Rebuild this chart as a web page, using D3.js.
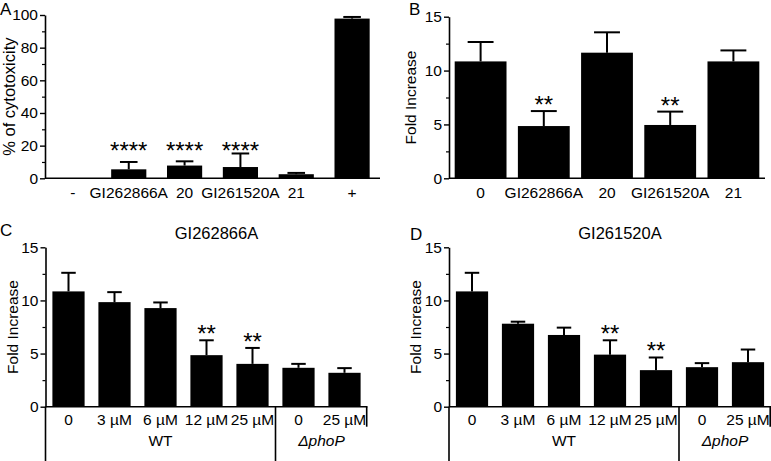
<!DOCTYPE html>
<html><head><meta charset="utf-8">
<script src="https://cdn.jsdelivr.net/npm/d3@7"></script>
<style>
body{margin:0;background:#fff}
svg{display:block}
text{font-family:"Liberation Sans",Arial,sans-serif;fill:#000}
</style>
</head><body>
<svg id="chart" width="771" height="461"></svg>
<script>
// ---------- data ----------
const catsA = ["-", "GI262866A", "20", "GI261520A", "21", "+"];
const valA  = [0, 5.5, 7.8, 6.9, 2.5, 97.8];
const errA  = [0, 10.0, 10.4, 15.2, 3.3, 98.8];
const sigA  = ["", "****", "****", "****", "", ""];
const ticksA = [0, 20, 40, 60, 80, 100];
const minorA = [10, 30, 50, 70, 90];

const catsB = ["0", "GI262866A", "20", "GI261520A", "21"];
const valB  = [10.85, 4.85, 11.66, 4.95, 10.85];
const errB  = [12.65, 6.24, 13.55, 6.19, 11.87];
const sigB  = ["", "**", "", "**", ""];

const ticksFold = [0, 5, 10, 15];
const minorFold = [2.5, 7.5, 12.5];

const catsCD = ["0", "3 µM", "6 µM", "12 µM", "25 µM", "0", "25 µM"];
const groupNames = ["WT", "ΔphoP"];
const groupSizes = [5, 2];

const valC = [10.85, 9.84, 9.28, 4.85, 4.03, 3.66, 3.19];
const errC = [12.6, 10.78, 9.81, 6.25, 5.53, 4.03, 3.63];
const sigC = ["", "", "", "**", "**", "", ""];

const valD = [10.85, 7.81, 6.75, 4.9, 3.44, 3.72, 4.19];
const errD = [12.6, 8.0, 7.44, 6.25, 4.63, 4.1, 5.38];
const sigD = ["", "", "", "**", "**", "", ""];

// ---------- drawing ----------
const svg = d3.select("#chart");
const FONT = "Liberation Sans, Arial, sans-serif";

function panel(o) {
  const g = svg.append("g");
  const x = d3.scaleBand().domain(o.cats.map((c, i) => i)).range([o.x0, o.x1])
    .paddingInner(o.pad).paddingOuter(o.pad / 2);
  const y = d3.scaleLinear().domain([0, o.ymax]).range([o.yb, o.yt]);

  // bars
  g.selectAll(".bar").data(o.vals).join("rect")
    .attr("x", (d, i) => x(i)).attr("width", x.bandwidth())
    .attr("y", d => y(d)).attr("height", d => y(0) - y(d))
    .attr("fill", "#000");

  // error bars (upper only)
  const cw = x.bandwidth() * o.capFrac;
  o.errs.forEach((e, i) => {
    if (e <= o.vals[i]) return;
    const cx = x(i) + x.bandwidth() / 2;
    g.append("line").attr("x1", cx).attr("x2", cx).attr("y1", y(o.vals[i])).attr("y2", y(e))
      .attr("stroke", "#000").attr("stroke-width", 2);
    g.append("line").attr("x1", cx - cw / 2).attr("x2", cx + cw / 2).attr("y1", y(e)).attr("y2", y(e))
      .attr("stroke", "#000").attr("stroke-width", 2);
  });

  // significance
  o.sig.forEach((s, i) => {
    if (!s) return;
    const cx = x(i) + x.bandwidth() / 2;
    const cy = o.sigFixed != null ? y(o.sigFixed) : y(o.errs[i]) - 11;
    g.append("text").attr("x", cx).attr("y", cy + 13).attr("text-anchor", "middle")
      .style("font-size", "24px").text(s);
  });

  // y axis
  const ya = g.append("g").attr("transform", `translate(${o.x0},0)`)
    .call(d3.axisLeft(y).tickValues(o.ticks).tickSize(5).tickPadding(2).tickSizeOuter(0));
  ya.select(".domain").attr("stroke-width", 1.6);
  ya.selectAll(".tick line").attr("stroke-width", 1.4);
  ya.selectAll("text").style("font-size", "15.5px").style("font-family", FONT);
  const ym = g.append("g").attr("transform", `translate(${o.x0},0)`)
    .call(d3.axisLeft(y).tickValues(o.minor).tickSize(3).tickFormat("").tickSizeOuter(0));
  ym.select(".domain").remove();
  ym.selectAll(".tick line").attr("stroke-width", 1.2);

  // x axis
  const xa = g.append("g").attr("transform", `translate(0,${o.yb})`)
    .call(d3.axisBottom(x).tickFormat(i => o.cats[i]).tickSize(0).tickPadding(o.xpad).tickSizeOuter(0));
  xa.select(".domain").attr("stroke-width", 1.6).attr("d", `M${o.x0},0H${o.x1}`);
  xa.selectAll("text").style("font-size", "15.5px").style("font-family", FONT);

  // y label
  g.append("text").attr("transform", `translate(${o.ylx},${(o.yt + o.yb) / 2}) rotate(-90)`)
    .attr("text-anchor", "middle").style("font-size", o.ylfont + "px").text(o.ylabel);

  // panel letter
  g.append("text").attr("x", o.lx).attr("y", o.ly).style("font-size", "17px").text(o.letter);

  // title
  if (o.title) {
    g.append("text").attr("x", (o.x0 + o.x1) / 2 + 10).attr("y", o.yt - 8).attr("text-anchor", "middle")
      .style("font-size", "16.5px").text(o.title);
  }

  // group brackets
  if (o.groups) {
    const lineAttrs = sel => sel.attr("stroke", "#000").attr("stroke-width", 1.6);
    g.append("line").attr("x1", o.x0).attr("x2", o.x0).attr("y1", o.yb).attr("y2", 470).call(lineAttrs);
    let start = 0;
    const step = x.step();
    o.groups.forEach((n, gi) => {
      const gx0 = o.x0 + start * step;
      const gx1 = o.x0 + (start + n) * step;
      g.append("text").attr("x", (gx0 + gx1) / 2).attr("y", o.yb + 39)
        .attr("text-anchor", "middle").style("font-size", "15.5px")
        .style("font-style", gi === 1 ? "italic" : "normal").text(o.groupNames[gi]);
      if (gi < o.groups.length - 1) {
        g.append("line").attr("x1", gx1).attr("x2", gx1).attr("y1", o.yb).attr("y2", 470).call(lineAttrs);
      } else {
        g.append("line").attr("x1", gx1 - 0.8).attr("x2", gx1 - 0.8).attr("y1", o.yb).attr("y2", o.yb + 20).call(lineAttrs);
      }
      start += n;
    });
  }
}

panel({cats: catsA, vals: valA, errs: errA, sig: sigA, sigFixed: 20, ticks: ticksA, minor: minorA,
  ymax: 100, x0: 45, x1: 380, yt: 15, yb: 178.3, pad: 0.37, capFrac: 0.5, xpad: 9,
  ylabel: "% of cytotoxicity", ylfont: 16.5, ylx: 15, letter: "A", lx: 0, ly: 15});

panel({cats: catsB, vals: valB, errs: errB, sig: sigB, ticks: ticksFold, minor: minorFold,
  ymax: 15, x0: 449, x1: 765, yt: 16.7, yb: 178.3, pad: 0.18, capFrac: 0.5, xpad: 9,
  ylabel: "Fold Increase", ylfont: 15.5, ylx: 416, letter: "B", lx: 409, ly: 15});

panel({cats: catsCD, vals: valC, errs: errC, sig: sigC, ticks: ticksFold, minor: minorFold,
  ymax: 15, x0: 45.5, x1: 367.5, yt: 247.3, yb: 406.7, pad: 0.3, capFrac: 0.45, xpad: 7,
  ylabel: "Fold Increase", ylfont: 15.5, ylx: 18, letter: "C", lx: 0, ly: 236,
  title: "GI262866A", groups: groupSizes, groupNames: groupNames});

panel({cats: catsCD, vals: valD, errs: errD, sig: sigD, ticks: ticksFold, minor: minorFold,
  ymax: 15, x0: 449, x1: 771, yt: 247.3, yb: 406.7, pad: 0.3, capFrac: 0.45, xpad: 7,
  ylabel: "Fold Increase", ylfont: 15.5, ylx: 421, letter: "D", lx: 410, ly: 240,
  title: "GI261520A", groups: groupSizes, groupNames: groupNames});
</script>
</body></html>
